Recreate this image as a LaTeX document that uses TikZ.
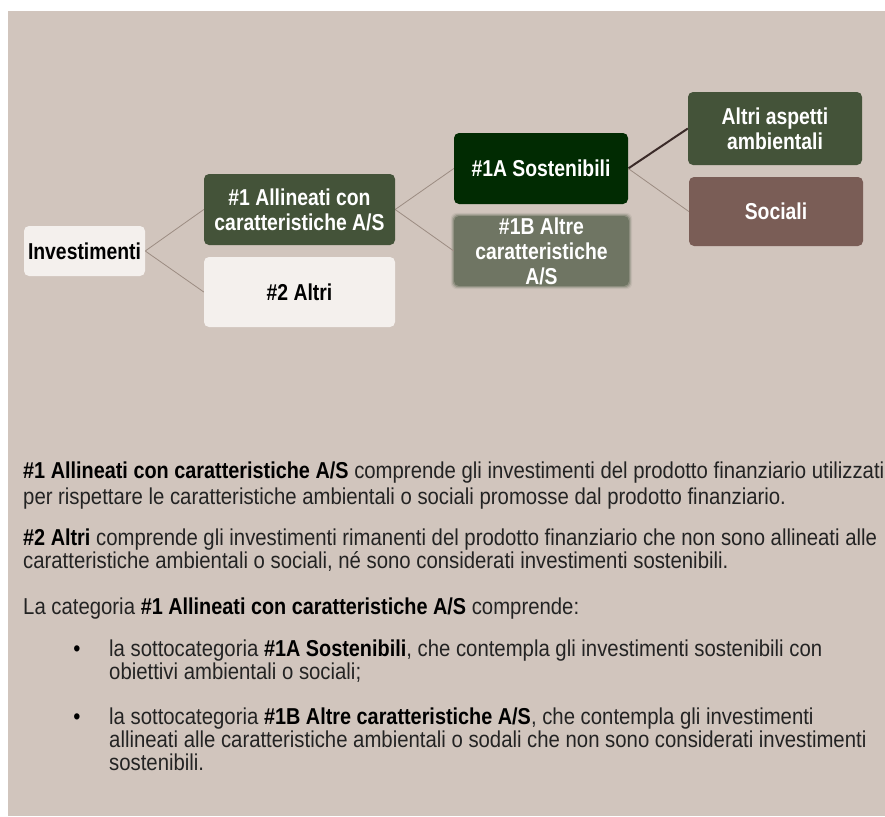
\documentclass[tikz,border=0pt]{standalone}
\usepackage{fontspec}
\setmainfont{Liberation Sans}[FakeStretch=0.884, BoldFeatures={FakeStretch=0.863}]
\newfontfamily\cardfamily{Liberation Sans}[FakeStretch=0.842]
\usetikzlibrary{positioning}

\definecolor{paperbg}{HTML}{D1C5BD}
\definecolor{boxlight}{HTML}{F4F0ED}
\definecolor{boxgreen}{HTML}{445339}
\definecolor{boxdeep}{HTML}{012B02}
\definecolor{boxsage}{HTML}{6F7563}
\definecolor{boxbrown}{HTML}{7A5D56}
\definecolor{linklight}{HTML}{9C8C82}
\definecolor{linkdark}{HTML}{3B2B29}
\definecolor{bodytext}{HTML}{232323}

\pgfdeclarelayer{paper}
\pgfdeclarelayer{under}
\pgfsetlayers{paper,under,main}

\newcommand{\boxfont}{\cardfamily\fontsize{23}{25}\selectfont\bfseries}
\newcommand{\bodyfont}{\fontsize{23}{25}\selectfont}

\tikzset{
  card/.style={rounded corners=5pt, inner sep=0pt, align=center,
    font=\boxfont, text=white},
  cardlight/.style={card, fill=boxlight, text=black},
  link/.style={draw=linklight, line width=0.8pt},
  linkstrong/.style={draw=linkdark, line width=2pt},
  bodyline/.style={anchor=base west, inner sep=0pt, font=\bodyfont, text=bodytext},
  bulletdot/.style={anchor=base, inner sep=0pt, font=\bodyfont, text=black}
}

\begin{document}
\begin{tikzpicture}[x=1pt, y=-1pt]
\useasboundingbox (0,0) rectangle (885,816);

\begin{pgfonlayer}{paper}
  \fill[white] (0,0) rectangle (885,816);
  \fill[paperbg] (8,11) rectangle (885,816);
\end{pgfonlayer}

% tree of investment categories
\node[cardlight, minimum width=121pt, minimum height=50pt] (inv) at (84.5,251) {Investimenti};
\node[card, fill=boxgreen, minimum width=191pt, minimum height=71pt] (al) at (299.5,209.5)
  {\#1 Allineati con\\caratteristiche A/S};
\node[cardlight, minimum width=191pt, minimum height=70pt] (alt) at (299.5,292) {\#2 Altri};
\node[card, fill=boxdeep, minimum width=174pt, minimum height=71pt] (sost) at (541,168.5)
  {\#1A Sostenibili};
\node[card, fill=boxsage, minimum width=175pt, minimum height=70pt] (altre) at (541.5,251)
  {\#1B Altre\\caratteristiche\\A/S};
\node[card, fill=boxgreen, minimum width=174pt, minimum height=73pt] (amb) at (775,128.5)
  {Altri aspetti\\ambientali};
\node[card, fill=boxbrown, minimum width=174pt, minimum height=69pt] (soc) at (776,211.5)
  {Sociali};

\begin{pgfonlayer}{under}
  % soft edge around the #1B box
  \foreach \d/\o in {1/0.45, 2/0.25, 3/0.12}{
    \fill[boxsage, opacity=\o, rounded corners=6pt]
      ([shift={(-\d pt,-\d pt)}]altre.south west) rectangle ([shift={(\d pt,\d pt)}]altre.north east);
  }
  \draw[link] (inv.east) -- (al.west);
  \draw[link] (inv.east) -- (alt.west);
  \draw[link] (al.east) -- (sost.west);
  \draw[link] (al.east) -- (altre.west);
  \draw[linkstrong] (sost.east) -- (amb.west);
  \draw[link] (sost.east) -- (soc.west);
\end{pgfonlayer}

% explanatory text
\node[bodyline] (p1a) at (23,478) {\textbf{\color{black}\#1 Allineati con caratteristiche A/S} comprende gli investimenti del prodotto finanziario utilizzati};
\node[bodyline] (p1b) at (23,504) {per rispettare le caratteristiche ambientali o sociali promosse dal prodotto finanziario.};
\node[bodyline] (p2a) at (23,545) {\textbf{\color{black}\#2 Altri} comprende gli investimenti rimanenti del prodotto finanziario che non sono allineati alle};
\node[bodyline] (p2b) at (23,568) {caratteristiche ambientali o sociali, né sono considerati investimenti sostenibili.};
\node[bodyline] (p3) at (23,614) {La categoria \textbf{\color{black}\#1 Allineati con caratteristiche A/S} comprende:};

\node[bulletdot] (b1) at (77,656) {•};
\node[bodyline] (b1a) at (109,656) {la sottocategoria \textbf{\color{black}\#1A Sostenibili}, che contempla gli investimenti sostenibili con};
\node[bodyline] (b1b) at (109,679) {obiettivi ambientali o sociali;};

\node[bulletdot] (b2) at (77,724) {•};
\node[bodyline] (b2a) at (109,724) {la sottocategoria \textbf{\color{black}\#1B Altre caratteristiche A/S}, che contempla gli investimenti};
\node[bodyline] (b2b) at (109,747) {allineati alle caratteristiche ambientali o sodali che non sono considerati investimenti};
\node[bodyline] (b2c) at (109,770) {sostenibili.};
\end{tikzpicture}
\end{document}
